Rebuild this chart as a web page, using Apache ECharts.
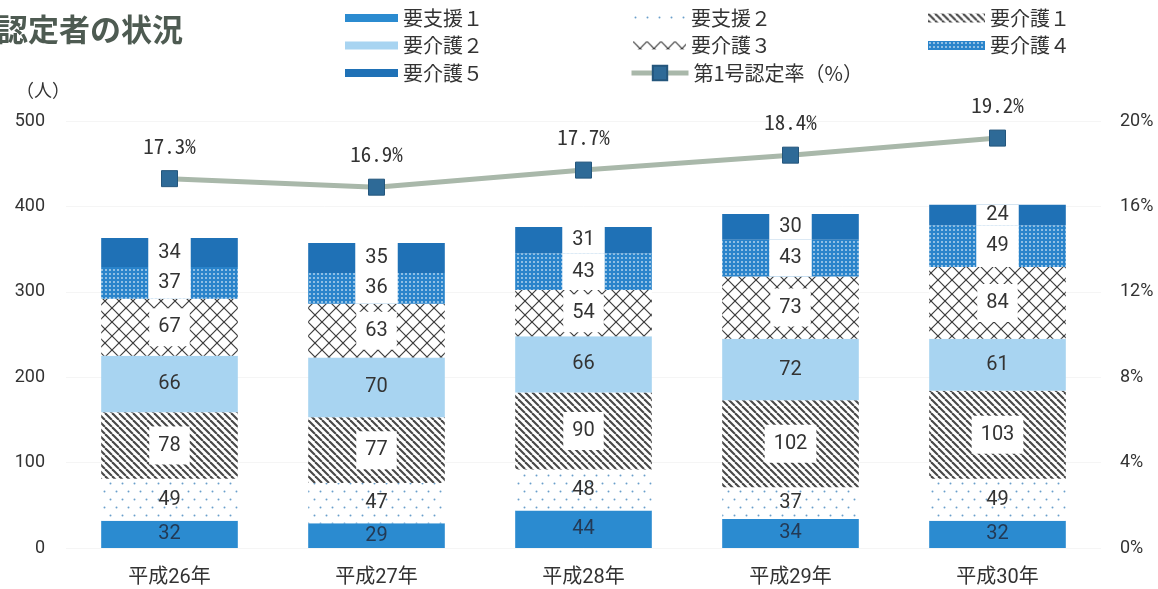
<!DOCTYPE html>
<html>
<head>
<meta charset="utf-8">
<script src="https://cdn.jsdelivr.net/npm/echarts@6/dist/echarts.min.js"></script>
<style>
  html, body { margin: 0; padding: 0; background: #fff; }
  #main { width: 1158px; height: 589px; }
</style>
</head>
<body>
<div id="main"></div>
<script>
// 年度別 要支援・要介護認定者数（人）と第1号認定率（%）
const years  = ['平成26年', '平成27年', '平成28年', '平成29年', '平成30年'];
const shien1 = [32, 29, 44, 34, 32];
const shien2 = [49, 47, 48, 37, 49];
const kaigo1 = [78, 77, 90, 102, 103];
const kaigo2 = [66, 70, 66, 72, 61];
const kaigo3 = [67, 63, 54, 73, 84];
const kaigo4 = [37, 36, 43, 43, 49];
const kaigo5 = [34, 35, 31, 30, 24];
const rate   = [17.3, 16.9, 17.7, 18.4, 19.2];

const FONT = 'Roboto, "Noto Sans CJK JP", sans-serif';
const CJK = '"Noto Sans CJK JP", Roboto, sans-serif';
const MONO = '"Noto Sans Mono CJK JP", "Liberation Mono", "DejaVu Sans Mono", monospace';

// repeating canvas fills for the hatched segments
function tile(w, h, draw) {
  const c = document.createElement('canvas');
  c.width = w; c.height = h;
  const g = c.getContext('2d');
  draw(g, w, h);
  return { image: c, repeat: 'repeat' };
}
const dotFill = tile(12, 16, (g, w, h) => {
  g.fillStyle = '#fff'; g.fillRect(0, 0, w, h);
  g.fillStyle = '#6a9fcb';
  g.beginPath(); g.arc(2.5, 3.5, 1, 0, Math.PI * 2); g.fill();
  g.beginPath(); g.arc(8.5, 11.5, 1, 0, Math.PI * 2); g.fill();
});
const diagFill = tile(7, 7, (g, w, h) => {
  g.fillStyle = '#fff'; g.fillRect(0, 0, w, h);
  g.strokeStyle = '#484848'; g.lineWidth = 2.1;
  for (let k = -1; k <= 1; k++) {
    g.beginPath(); g.moveTo(k * w, 0); g.lineTo(k * w + w, h); g.stroke();
  }
});
const crossFill = tile(14, 14, (g, w, h) => {
  g.fillStyle = '#fff'; g.fillRect(0, 0, w, h);
  g.strokeStyle = '#3c3c3c'; g.lineWidth = 1.2;
  g.beginPath(); g.moveTo(0, 0); g.lineTo(w, h); g.stroke();
  g.beginPath(); g.moveTo(w, 0); g.lineTo(0, h); g.stroke();
});
const meshFill = tile(4, 4, (g, w, h) => {
  g.fillStyle = '#2a84cb'; g.fillRect(0, 0, w, h);
  g.fillStyle = 'rgba(255,255,255,0.75)';
  g.fillRect(1.2, 1.2, 1.6, 1.6);
});

const baseLabel = {
  show: true, position: 'inside', color: '#333', fontSize: 20,
  fontFamily: FONT, textBorderWidth: 0
};
const plainLabel = Object.assign({}, baseLabel);
const navyLabel = Object.assign({}, baseLabel, { color: '#233a55' });
const boxLabel = Object.assign({}, baseLabel, { backgroundColor: '#fff', padding: [9, 9] });
const stripLabel = Object.assign({}, baseLabel, { backgroundColor: '#fff', padding: [0, 10] });

function barSeries(id, name, data, color, label) {
  return {
    id, name, type: 'bar', stack: 'total', barWidth: '66%',
    data, itemStyle: { color }, label,
    emphasis: { disabled: true }
  };
}

const legendText = { fontSize: 20, color: '#333', fontFamily: CJK, lineHeight: 22 };
function legendCol(left, top, data, itemWidth, itemHeight) {
  return {
    orient: 'vertical', left, top, data, icon: 'rect',
    itemWidth, itemHeight, itemGap: 5.5, padding: 0,
    textStyle: legendText, selectedMode: false
  };
}

const option = {
  backgroundColor: '#fff',
  animation: false,
  title: {
    text: '認定者の状況', left: -3, top: 14, padding: 0,
    textStyle: { fontSize: 31, fontWeight: 'bold', color: '#4e5b52', fontFamily: CJK }
  },
  legend: [
    legendCol(345, 7, ['要支援１', '要介護２', '要介護５'], 53, 8),
    legendCol(633, 7, ['要支援２', '要介護３'], 53, 8),
    Object.assign(legendCol(629, 62, ['第1号認定率（%）'], 57, 18), {
      icon: null, lineStyle: { width: 5 }
    }),
    legendCol(928, 7, ['要介護１', '要介護４'], 57, 9)
  ],
  grid: { left: 66, right: 57, top: 121, bottom: 41 },
  xAxis: {
    type: 'category', data: years,
    axisLine: { show: false }, axisTick: { show: false },
    axisLabel: { fontSize: 20, color: '#333', fontFamily: FONT, margin: 20 }
  },
  yAxis: [
    {
      type: 'value', min: 0, max: 500, interval: 100,
      name: '（人）', nameLocation: 'end', nameGap: 22,
      nameTextStyle: { fontSize: 18, color: '#333', fontFamily: CJK, align: 'right', padding: [0, -4, 0, 0] },
      axisLine: { show: false }, axisTick: { show: false },
      axisLabel: { fontSize: 18, color: '#333', fontFamily: FONT, margin: 21 },
      splitLine: { lineStyle: { color: '#f5f5f5', width: 1 } }
    },
    {
      type: 'value', min: 0, max: 20, interval: 4, position: 'right',
      axisLine: { show: false }, axisTick: { show: false },
      axisLabel: { fontSize: 18, color: '#333', fontFamily: FONT, margin: 19, formatter: '{value}%' },
      splitLine: { show: false }
    }
  ],
  series: [
    barSeries('s1', '要支援１', shien1, '#2b8bd0', navyLabel),
    barSeries('s2', '要支援２', shien2, dotFill, plainLabel),
    barSeries('k1', '要介護１', kaigo1, diagFill, boxLabel),
    barSeries('k2', '要介護２', kaigo2, '#a8d4f1', plainLabel),
    barSeries('k3', '要介護３', kaigo3, crossFill, boxLabel),
    barSeries('k4', '要介護４', kaigo4, meshFill, stripLabel),
    barSeries('k5', '要介護５', kaigo5, '#1f71b6', stripLabel),
    {
      id: 'rate', name: '第1号認定率（%）', type: 'line', yAxisIndex: 1,
      data: rate, symbol: 'rect', symbolSize: 16,
      lineStyle: { color: '#a9b8aa', width: 5 },
      itemStyle: { color: '#2e6a97', borderColor: '#24567c', borderWidth: 1 },
      label: {
        show: true, position: 'top', distance: 14, fontSize: 21, color: '#333',
        fontFamily: MONO, formatter: p => p.value.toFixed(1) + '%'
      },
      emphasis: { disabled: true },
      z: 5
    }
  ]
};

const chart = echarts.init(document.getElementById('main'), null, { renderer: 'canvas' });
chart.setOption(option);

// white strips through the top two segments span the full segment height
const unit = chart.convertToPixel({ yAxisIndex: 0 }, 0) - chart.convertToPixel({ yAxisIndex: 0 }, 1);
const stripData = arr => arr.map(v => ({ value: v, label: { lineHeight: v * unit } }));
chart.setOption({
  series: [
    { id: 'k4', data: stripData(kaigo4) },
    { id: 'k5', data: stripData(kaigo5) }
  ]
});
</script>
</body>
</html>
